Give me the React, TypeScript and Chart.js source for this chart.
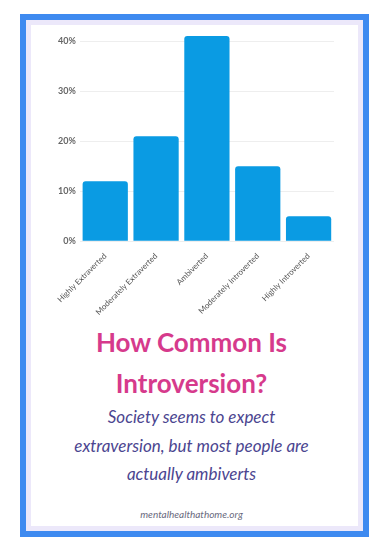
import React, { useEffect, useRef } from "react";
import { Chart, registerables } from "chart.js";

Chart.register(...registerables);

const categories = [
  "Highly Extraverted",
  "Moderately Extraverted",
  "Ambiverted",
  "Moderately Introverted",
  "Highly Introverted",
];
const shares = [12, 21, 41, 15, 5];
const yTicks = [0, 10, 20, 30, 40];
const titleLines = ["How Common Is", "Introversion?"];
const subtitleLines = [
  "Society seems to expect",
  "extraversion, but most people are",
  "actually ambiverts",
];
const footer = "mentalhealthathome.org";

export default function App() {
  const ref = useRef<HTMLCanvasElement>(null);
  useEffect(() => {
    if (!ref.current) return;
    const chart = new Chart(ref.current, {
      type: "bar",
      data: {
        labels: categories,
        datasets: [
          {
            data: shares,
            backgroundColor: "#0a9be3",
            borderRadius: 3,
            borderSkipped: "bottom",
            barPercentage: 0.89,
            categoryPercentage: 1,
          },
        ],
      },
      options: {
        animation: false,
        responsive: false,
        maintainAspectRatio: false,
        layout: { padding: { top: 17, right: 4, left: 0, bottom: 0 } },
        plugins: { legend: { display: false }, tooltip: { enabled: false } },
        scales: {
          x: {
            grid: { display: false },
            border: { display: false },
            ticks: {
              minRotation: 45,
              maxRotation: 45,
              autoSkip: false,
              color: "#555",
              font: { family: "Lato", size: 8 },
              padding: 2,
            },
          },
          y: {
            min: 0,
            max: 41,
            border: { display: false },
            grid: { color: "#eeeeee", drawTicks: false },
            afterBuildTicks: (scale: any) => {
              scale.ticks = yTicks.map((v) => ({ value: v }));
            },
            ticks: {
              color: "#666",
              font: { family: "Lato", size: 9, weight: "bold" },
              padding: 4,
              callback: (v: any) => v + "%",
            },
          },
        },
      },
    });
    return () => chart.destroy();
  }, []);

  return (
    <div
      style={{
        position: "fixed",
        left: 0,
        top: 0,
        width: 383,
        height: 549,
        background: "#ffffff",
        fontFamily: "Lato",
      }}
    >
      <div
        style={{
          position: "absolute",
          left: 20,
          top: 14,
          width: 349,
          height: 523,
          boxSizing: "border-box",
          border: "6px solid #3e8af0",
          background: "#ffffff",
        }}
      >
        <div
          style={{
            position: "absolute",
            inset: 0,
            border: "5px solid #ece8fa",
          }}
        />
      </div>
      <canvas
        ref={ref}
        width={284}
        height={300}
        style={{ position: "absolute", left: 54, top: 19, width: 284, height: 300 }}
      />
      {titleLines.map((t, i) => (
        <div
          key={t}
          style={{
            position: "absolute",
            left: 0,
            width: 383,
            top: 326 + i * 41,
            textAlign: "center",
            color: "#d63a8c",
            fontWeight: 700,
            fontSize: 26,
            lineHeight: "32px",
          }}
        >
          {t}
        </div>
      ))}
      {subtitleLines.map((t, i) => (
        <div
          key={t}
          style={{
            position: "absolute",
            left: 0,
            width: 383,
            top: 405 + i * 28.5,
            textAlign: "center",
            color: "#4b4590",
            fontStyle: "italic",
            fontSize: 17,
            lineHeight: "24px",
          }}
        >
          {t}
        </div>
      ))}
      <div
        style={{
          position: "absolute",
          left: 0,
          width: 383,
          top: 507,
          textAlign: "center",
          color: "#6a6a7e",
          fontStyle: "italic",
          fontSize: 10,
          lineHeight: "14px",
        }}
      >
        {footer}
      </div>
    </div>
  );
}
